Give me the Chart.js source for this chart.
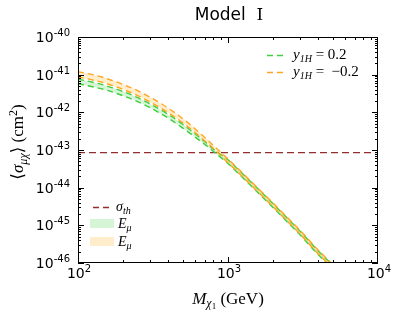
<!DOCTYPE html>
<html>
<head>
<meta charset="utf-8">
<script src="https://cdn.jsdelivr.net/npm/chart.js@4"></script>
<style>
  body { margin: 0; background: #fff; }
  canvas { display: block; }
</style>
</head>
<body>
<canvas id="grafico" width="399" height="313"></canvas>
<script>
// Dados
const masses = [100, 125, 150, 200, 250, 300, 400, 500, 600, 700, 800, 1000, 1200, 1500, 2000, 2500, 3000, 4000, 5000];
const orangeUpper = [1.20e-41, 1.00e-41, 8.22e-42, 5.50e-42, 3.76e-42, 2.57e-42, 1.29e-42, 6.76e-43, 3.72e-43, 2.14e-43, 1.32e-43, 5.75e-44, 2.88e-44, 1.20e-44, 3.89e-45, 1.58e-45, 7.59e-46, 2.19e-46, 9.12e-47];
const orangeLower = [8.71e-42, 7.24e-42, 6.03e-42, 4.07e-42, 2.79e-42, 1.91e-42, 9.77e-43, 5.25e-43, 2.95e-43, 1.74e-43, 1.10e-43, 4.57e-44, 2.29e-44, 9.55e-45, 3.09e-45, 1.26e-45, 6.03e-46, 1.74e-46, 7.24e-47];
const greenUpper = [7.59e-42, 6.31e-42, 5.25e-42, 3.55e-42, 2.45e-42, 1.70e-42, 8.81e-43, 4.79e-43, 2.75e-43, 1.66e-43, 1.05e-43, 5.50e-44, 2.75e-44, 1.15e-44, 3.72e-45, 1.51e-45, 7.24e-46, 2.09e-46, 8.71e-47];
const greenLower = [5.75e-42, 4.79e-42, 4.03e-42, 2.75e-42, 1.93e-42, 1.35e-42, 7.00e-43, 3.80e-43, 2.24e-43, 1.41e-43, 9.12e-44, 4.37e-44, 2.19e-44, 9.12e-45, 2.95e-45, 1.20e-45, 5.75e-46, 1.66e-46, 6.92e-47];
const sigmaTh = 8.5e-44;

// Ticks (expoentes)
const xTickExp = [2, 3, 4];
const yTickExp = [-40, -41, -42, -43, -44, -45, -46];

const GREEN = '#3fcf3f';
const ORANGE = '#ffa520';
const GREEN_FILL = 'rgba(50, 205, 50, 0.2)';
const ORANGE_FILL = 'rgba(255, 165, 0, 0.2)';
const BROWN = '#922e2e';
const SERIF = '"Liberation Serif", "DejaVu Serif", serif';
const SANS = '"DejaVu Sans", sans-serif';

function pontos(ys) {
  return masses.map((m, i) => ({ x: m, y: ys[i] }));
}

function linha(label, ys, cor, fill, bg) {
  return {
    label: label,
    data: pontos(ys),
    borderColor: cor,
    borderWidth: 1.4,
    borderDash: [6, 4],
    backgroundColor: bg || 'transparent',
    fill: fill,
    pointRadius: 0,
    cubicInterpolationMode: 'monotone'
  };
}

// Texto com sub/sobrescrito: partes = [{t, f, dy}]
function textoRico(ctx, partes, x, y, align) {
  let w = 0;
  partes.forEach(p => { ctx.font = p.f; w += ctx.measureText(p.t).width; });
  let cx = align === 'center' ? x - w / 2 : align === 'right' ? x - w : x;
  ctx.textAlign = 'left';
  ctx.textBaseline = 'alphabetic';
  partes.forEach(p => {
    ctx.font = p.f;
    ctx.fillText(p.t, cx, y + (p.dy || 0));
    cx += ctx.measureText(p.t).width;
  });
}

function potencia(exp) {
  const sup = exp < 0 ? '-' + Math.abs(exp) : String(exp);
  return [
    { t: '10', f: '14px ' + SANS },
    { t: sup, f: '10px ' + SANS, dy: -6 }
  ];
}

const decoracao = {
  id: 'decoracao',
  afterDraw(chart) {
    const ctx = chart.ctx;
    const a = chart.chartArea;
    const xs = chart.scales.x, ys = chart.scales.y;
    ctx.save();
    ctx.fillStyle = '#000';
    ctx.strokeStyle = '#000';
    ctx.lineWidth = 1;

    // moldura
    ctx.strokeRect(a.left + 0.5, a.top + 0.5, a.right - a.left - 1, a.bottom - a.top - 1);

    // ticks x (para dentro, em cima e embaixo)
    ctx.beginPath();
    for (let e = 2; e <= 3; e++) {
      for (let m = 1; m <= 9; m++) {
        const px = Math.round(xs.getPixelForValue(m * Math.pow(10, e))) + 0.5;
        const len = m === 1 ? 6 : 3;
        ctx.moveTo(px, a.bottom); ctx.lineTo(px, a.bottom - len);
        ctx.moveTo(px, a.top); ctx.lineTo(px, a.top + len);
      }
    }
    ctx.stroke();

    // ticks y
    ctx.beginPath();
    for (let e = -46; e < -40; e++) {
      for (let m = 1; m <= 9; m++) {
        const py = Math.round(ys.getPixelForValue(m * Math.pow(10, e))) + 0.5;
        const len = m === 1 ? 6 : 3;
        ctx.moveTo(a.left, py); ctx.lineTo(a.left + len, py);
        ctx.moveTo(a.right, py); ctx.lineTo(a.right - len, py);
      }
    }
    ctx.stroke();

    // rótulos dos ticks
    yTickExp.forEach(e => {
      const py = ys.getPixelForValue(Math.pow(10, e));
      textoRico(ctx, potencia(e), a.left - 8, py + 5, 'right');
    });
    xTickExp.forEach(e => {
      const px = xs.getPixelForValue(Math.pow(10, e));
      textoRico(ctx, potencia(e), px + 1, a.bottom + 15, 'center');
    });

    // título
    textoRico(ctx, [
      { t: 'Model  ', f: '17px ' + SANS },
      { t: 'Ⅰ', f: '17px ' + SERIF }
    ], 229, 20, 'center');

    // eixo x
    textoRico(ctx, [
      { t: 'M', f: 'italic 17px ' + SERIF },
      { t: 'χ', f: 'italic 12px ' + SERIF, dy: 3 },
      { t: '1', f: '9px ' + SERIF, dy: 5 },
      { t: ' (GeV)', f: '17px ' + SERIF }
    ], 228, 304, 'center');

    // eixo y
    ctx.save();
    ctx.translate(23, 142);
    ctx.rotate(-Math.PI / 2);
    textoRico(ctx, [
      { t: '⟨', f: '17px ' + SERIF },
      { t: 'σ', f: 'italic 17px ' + SERIF },
      { t: 'μχ', f: 'italic 12px ' + SERIF, dy: 4 },
      { t: '⟩', f: '17px ' + SERIF },
      { t: ' (cm', f: '17px ' + SERIF },
      { t: '2', f: '12px ' + SERIF, dy: -6 },
      { t: ')', f: '17px ' + SERIF }
    ], 0, 0, 'center');
    ctx.restore();

    // legenda superior direita
    ctx.lineWidth = 1.4;
    ctx.setLineDash([6, 4]);
    [[GREEN, 55, ' = 0.2'], [ORANGE, 72, ' =  −0.2']].forEach(([cor, yy, txt]) => {
      ctx.strokeStyle = cor;
      ctx.beginPath(); ctx.moveTo(267, yy + 0.5); ctx.lineTo(284, yy + 0.5); ctx.stroke();
      ctx.fillStyle = '#000';
      textoRico(ctx, [
        { t: 'y', f: 'italic 15px ' + SERIF },
        { t: '1H', f: 'italic 10px ' + SERIF, dy: 3 },
        { t: txt, f: '15px ' + SERIF }
      ], 293, yy + 4, 'left');
    });

    // legenda inferior esquerda
    ctx.strokeStyle = BROWN;
    ctx.setLineDash([6, 4]);
    ctx.beginPath(); ctx.moveTo(93, 207.5); ctx.lineTo(112, 207.5); ctx.stroke();
    ctx.setLineDash([]);
    ctx.fillStyle = '#000';
    textoRico(ctx, [
      { t: 'σ', f: 'italic 14px ' + SERIF },
      { t: 'th', f: 'italic 10px ' + SERIF, dy: 3 }
    ], 116, 211, 'left');
    ctx.fillStyle = GREEN_FILL;
    ctx.fillRect(90, 219, 24, 9);
    ctx.fillStyle = ORANGE_FILL;
    ctx.fillRect(90, 237, 24, 9);
    ctx.fillStyle = '#000';
    [228, 246].forEach(yy => {
      textoRico(ctx, [
        { t: 'E', f: 'italic 14px ' + SERIF },
        { t: 'μ', f: 'italic 10px ' + SERIF, dy: 3 }
      ], 118, yy, 'left');
    });

    ctx.restore();
  }
};

const ctx1 = document.getElementById('grafico').getContext('2d');
new Chart(ctx1, {
  type: 'line',
  data: {
    datasets: [
      linha('orange upper', orangeUpper, ORANGE, '+1', ORANGE_FILL),
      linha('orange lower', orangeLower, ORANGE, false),
      linha('green upper', greenUpper, GREEN, '+1', GREEN_FILL),
      linha('green lower', greenLower, GREEN, false),
      {
        label: 'sigma th',
        data: [{ x: 100, y: sigmaTh }, { x: 10000, y: sigmaTh }],
        borderColor: BROWN,
        borderWidth: 1.4,
        borderDash: [7, 4],
        pointRadius: 0,
        fill: false
      }
    ]
  },
  options: {
    responsive: false,
    animation: false,
    layout: { padding: { left: 78, right: 21, top: 37, bottom: 50 } },
    plugins: {
      legend: { display: false },
      tooltip: { enabled: false }
    },
    scales: {
      x: { type: 'logarithmic', min: 100, max: 10000, display: false },
      y: { type: 'logarithmic', min: 1e-46, max: 1e-40, display: false }
    }
  },
  plugins: [decoracao]
});
</script>
</body>
</html>
